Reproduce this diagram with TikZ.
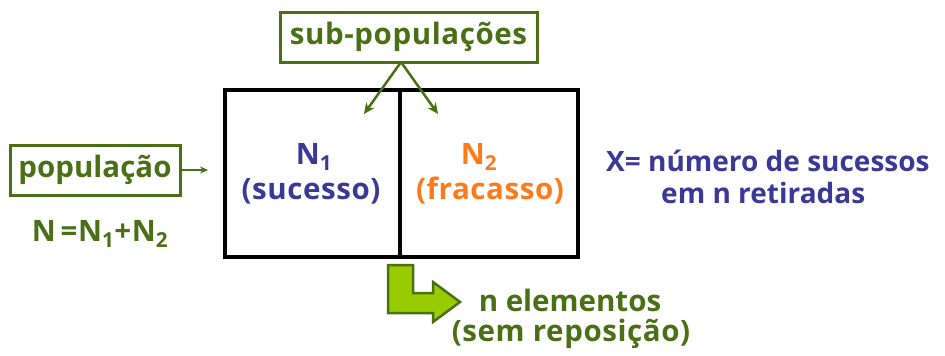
\documentclass[tikz,border=0pt]{standalone}
\usepackage{fontspec}
\setmainfont{Open Sans}[LetterSpace=2]
\usetikzlibrary{arrows.meta}
\definecolor{dgreen}{RGB}{74,112,22}
\definecolor{lgreen}{RGB}{153,204,0}
\definecolor{tblue}{RGB}{58,58,150}
\definecolor{torange}{RGB}{255,122,26}
\tikzset{
  lbl/.style={font=\fontsize{29.5}{34}\selectfont\bfseries, inner sep=0pt},
  tight/.style={font=\fontsize{29.5}{34}\selectfont\bfseries\addfontfeatures{LetterSpace=0}},
  xtext/.style={font=\fontsize{28}{34}\selectfont\bfseries\addfontfeatures{LetterSpace=0}},
  gbox/.style={draw=dgreen, line width=3pt, text=dgreen, lbl},
  garrow/.style={draw=dgreen, line width=2.5pt, -{Stealth[length=11pt,width=10pt]}},
}
\begin{document}
\begin{tikzpicture}[x=1pt,y=-1pt]
\useasboundingbox (0,0) rectangle (945,356);
% main box
\draw[line width=4pt] (225,90) rectangle (578,257);
\draw[line width=4pt] (400,90) -- (400,257);
% sub-populacoes
\node[gbox, minimum width=257pt, minimum height=50pt] (sub) at (408.5,37) {sub-populações};
\coordinate (sb) at (401,62);
\coordinate (a1) at (364,114);
\coordinate (a2) at (438,114);
\draw[garrow] (sb) -- (a1);
\draw[garrow] (sb) -- (a2);
% N1, N2
\node[lbl, text=tblue] (n1) at (314,157) {N\textsubscript{1}};
\node[lbl, text=tblue] (s1) at (311,191) {(sucesso)};
\node[lbl, text=torange] (n2) at (479,157) {N\textsubscript{2}};
\node[lbl, text=torange] (s2) at (490,191) {(fracasso)};
% populacao
\node[gbox, tight, minimum width=170pt, minimum height=50pt] (pop) at (95,170) {população};
\coordinate (pe) at (208,170);
\draw[draw=dgreen, line width=2pt, -{Stealth[length=8pt,width=7pt]}] (pop.east) -- (pe);
\node[lbl, text=dgreen] (eq) at (100,234) {N\,=N\textsubscript{1}+N\textsubscript{2}};
% X
\node[lbl, xtext, text=tblue, anchor=west] (x1) at (606,161) {X= número de sucessos};
\node[lbl, xtext, text=tblue, anchor=west] (x2) at (661,193) {em n retiradas};
% L arrow
\draw[draw=dgreen, fill=lgreen, line width=2.5pt, line join=miter]
  (388,265) -- (413,265) -- (413,293) -- (433,293) -- (433,282) -- (460,302)
  -- (433,322) -- (433,313) -- (388,313) -- cycle;
\node[lbl, tight, text=dgreen] (ne) at (570,300) {n elementos};
\node[lbl, text=dgreen] (sr) at (571,334) {(sem reposição)};
\end{tikzpicture}
\end{document}
